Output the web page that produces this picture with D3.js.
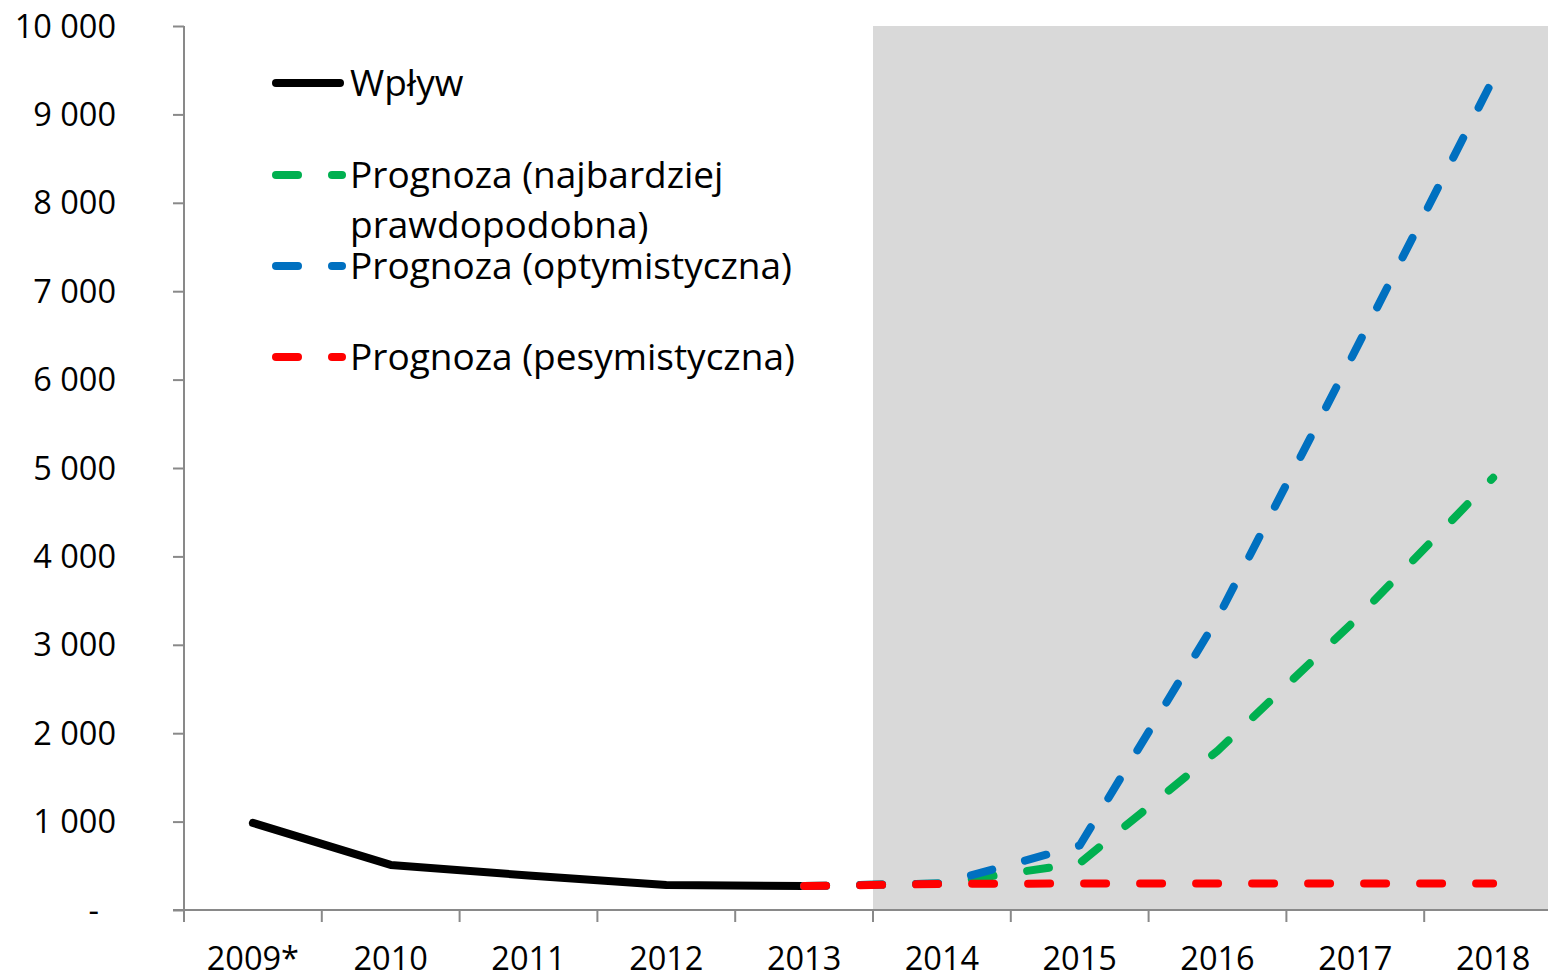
<!DOCTYPE html>
<html>
<head>
<meta charset="utf-8">
<script src="https://cdn.jsdelivr.net/npm/d3@7"></script>
<style>
  body { margin: 0; background: #fff; }
  text { font-family: "Open Sans", Lato, sans-serif; fill: #000; }
</style>
</head>
<body>
<div id="vis"></div>
<script>
var years = ["2009*", "2010", "2011", "2012", "2013", "2014", "2015", "2016", "2017", "2018"];
var yTicks = [0, 1000, 2000, 3000, 4000, 5000, 6000, 7000, 8000, 9000, 10000];

// actual inflow, 2009*-2013
var wplywYears = ["2009*", "2010", "2011", "2012", "2013"];
var wplyw = [985, 510, 390, 283, 271];

// forecasts, 2013-2018
var prognozaYears = ["2013", "2014", "2015", "2016", "2017", "2018"];
var prognozaNajbardziej = [271, 300, 530, 1800, 3280, 4890];
var prognozaOptym = [271, 300, 730, 3300, 6330, 9400];
var prognozaPesym = [271, 295, 300, 300, 300, 300];

var shadedFrom = "2014";

var legendNames = ["Wpływ", "Prognoza (najbardziej|prawdopodobna)", "Prognoza (optymistyczna)", "Prognoza (pesymistyczna)"];
var colors = ["#000000", "#00b050", "#0070c0", "#ff0000"];

var width = 1548, height = 973,
  plotLeft = 184, plotTop = 26, plotBottom = 910;

var svg = d3.select("#vis")
  .append("svg")
  .attr("width", width)
  .attr("height", height);

var x = d3.scaleBand()
  .domain(years)
  .range([plotLeft, plotLeft + 137.8 * years.length]);

var y = d3.scaleLinear()
  .domain([0, 10000])
  .range([plotBottom, plotTop]);

// shaded forecast period
svg.append("rect")
  .attr("x", x(shadedFrom))
  .attr("y", y(10000))
  .attr("width", x.range()[1] - x(shadedFrom))
  .attr("height", y(0) - y(10000))
  .attr("fill", "#d9d9d9");

// y axis
var yAxis = svg.append("g")
  .attr("transform", "translate(" + plotLeft + ",0)")
  .call(d3.axisLeft(y).tickValues(yTicks).tickSize(11).tickFormat(""));
yAxis.selectAll("line, path").attr("stroke", "#898989").attr("stroke-width", 2);
yAxis.select(".domain").attr("d", "M0," + y(10000) + "V" + (plotBottom + 12));

svg.selectAll(".ylab")
  .data(yTicks)
  .enter().append("text")
  .attr("class", "ylab")
  .attr("x", function(d){ return d === 0 ? 99 : 116; })
  .attr("y", function(d){ return y(d) + 11.5; })
  .attr("text-anchor", "end")
  .style("font-size", "32.5px")
  .text(function(d){ return d === 0 ? "-" : d3.format(",")(d).replace(/,/g, " "); });

// x axis, ticks between categories
var xAxis = svg.append("g");
xAxis.append("line")
  .attr("x1", plotLeft - 11).attr("x2", width)
  .attr("y1", plotBottom).attr("y2", plotBottom)
  .attr("stroke", "#898989").attr("stroke-width", 2);
xAxis.selectAll(".xt")
  .data(years)
  .enter().append("line")
  .attr("x1", function(d){ return x(d); })
  .attr("x2", function(d){ return x(d); })
  .attr("y1", plotBottom).attr("y2", plotBottom + 12)
  .attr("stroke", "#898989").attr("stroke-width", 2);

svg.selectAll(".xlab")
  .data(years)
  .enter().append("text")
  .attr("x", function(d){ return x(d) + x.bandwidth() / 2; })
  .attr("y", 970)
  .attr("text-anchor", "middle")
  .style("font-size", "32.5px")
  .text(function(d){ return d; });

var line = d3.line()
  .x(function(d){ return x(d[0]) + x.bandwidth() / 2; })
  .y(function(d){ return y(d[1]); });

var series = [
  d3.zip(wplywYears, wplyw),
  d3.zip(prognozaYears, prognozaNajbardziej),
  d3.zip(prognozaYears, prognozaOptym),
  d3.zip(prognozaYears, prognozaPesym)
];

series.forEach(function(s, i){
  svg.append("path")
    .attr("d", line(s))
    .attr("fill", "none")
    .attr("stroke", colors[i])
    .attr("stroke-width", 8)
    .attr("stroke-linecap", "round")
    .attr("stroke-linejoin", "round")
    .attr("stroke-dasharray", i === 0 ? null : "22,34");
});

// legend
var legendY = [83, 175, 266, 357];
legendNames.forEach(function(name, i){
  var g = svg.append("g");
  if (i === 0) {
    g.append("line").attr("x1", 276).attr("x2", 340);
  } else {
    g.append("line").attr("x1", 276).attr("x2", 298);
    g.append("line").attr("x1", 332).attr("x2", 342);
  }
  g.selectAll("line")
    .attr("y1", legendY[i]).attr("y2", legendY[i])
    .attr("stroke", colors[i])
    .attr("stroke-width", 8)
    .attr("stroke-linecap", "round");
  name.split("|").forEach(function(part, j){
    g.append("text")
      .attr("x", 350)
      .attr("y", legendY[i] + 13 + j * 50)
      .style("font-size", "37px")
      .text(part);
  });
});
</script>
</body>
</html>
